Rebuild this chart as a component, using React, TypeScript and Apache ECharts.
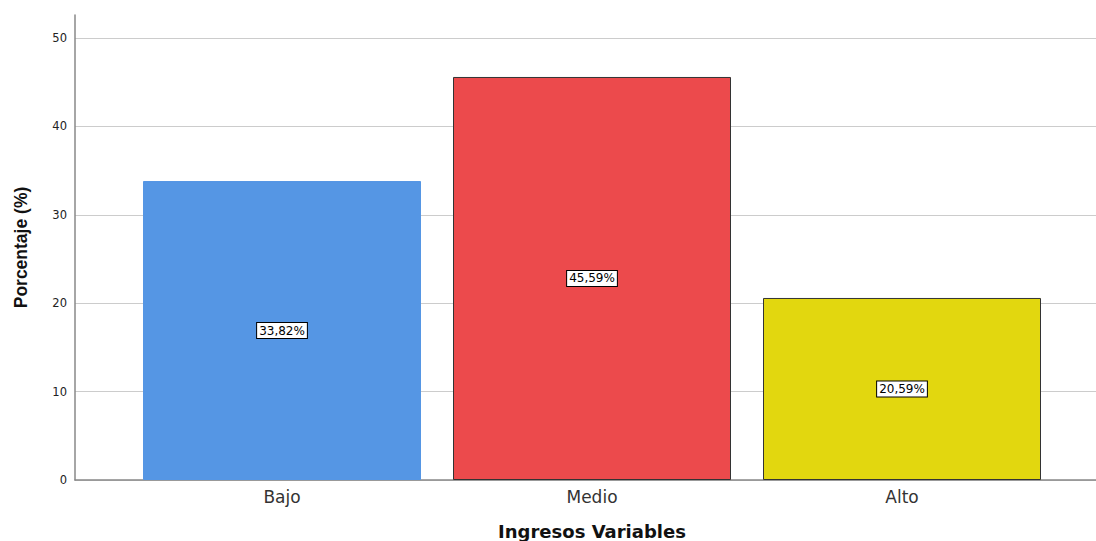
import React, { useEffect, useRef } from "react";
import * as echarts from "echarts";

const categories = ["Bajo", "Medio", "Alto"];
const values = [33.82, 45.59, 20.59];
const labels = ["33,82%", "45,59%", "20,59%"];
const colors = ["#5596e4", "#ec4a4c", "#e2d70f"];
const borders = ["#5596e4", "#333333", "#333333"];

export default function App() {
  const ref = useRef<HTMLDivElement>(null);
  useEffect(() => {
    const chart = echarts.init(ref.current!, undefined, { renderer: "svg" });
    const arial = "'Liberation Sans', Arial, sans-serif";
    const wide = "'DejaVu Sans', sans-serif";
    chart.setOption({
      animation: false,
      grid: [
        { left: 75, right: 0, top: 15, bottom: 61, containLabel: false, outerBoundsMode: "none" },
        { left: 127, right: 39, top: 15, bottom: 61, containLabel: false, outerBoundsMode: "none" },
      ],
      xAxis: [
        {
          gridIndex: 0,
          type: "value",
          min: 0,
          max: 1,
          axisLine: { show: true, onZero: false, lineStyle: { color: "#888", width: 1.5 } },
          axisTick: { show: false },
          axisLabel: { show: false },
          splitLine: { show: false },
        },
        {
          gridIndex: 1,
          type: "category",
          data: categories,
          axisLine: { show: false },
          axisTick: { show: false },
          axisLabel: { fontFamily: wide, fontSize: 17, color: "#333", margin: 8 },
          name: "Ingresos Variables",
          nameLocation: "middle",
          nameGap: 42,
          nameTextStyle: { fontFamily: wide, fontSize: 18, fontWeight: "bold", color: "#111" },
        },
      ],
      yAxis: [
        {
          gridIndex: 0,
          type: "value",
          min: 0,
          max: 52.6,
          interval: 10,
          axisLine: { show: true, lineStyle: { color: "#888", width: 1.5 } },
          axisTick: { show: false },
          axisLabel: { fontFamily: wide, fontSize: 11.5, color: "#222", showMaxLabel: false, margin: 8 },
          splitLine: { show: true, showMaxLine: false, lineStyle: { color: "#cccccc", width: 1 } },
          name: "Porcentaje (%)",
          nameLocation: "middle",
          nameGap: 45,
          nameRotate: 90,
          nameTextStyle: { fontFamily: arial, fontSize: 17.5, fontWeight: "bold", color: "#111" },
        },
        {
          gridIndex: 1,
          type: "value",
          min: 0,
          max: 52.6,
          show: false,
          splitLine: { show: false },
        },
      ],
      series: [
        {
          type: "bar",
          xAxisIndex: 1,
          yAxisIndex: 1,
          barWidth: 278,
          data: values.map((v, i) => ({
            value: v,
            itemStyle: { color: colors[i], borderColor: borders[i], borderWidth: 1 },
          })),
          label: {
            show: true,
            position: "inside",
            formatter: (p: any) => labels[p.dataIndex],
            fontFamily: wide,
            fontSize: 12,
            color: "#000",
            backgroundColor: "#fff",
            borderColor: "#000",
            borderWidth: 1,
            padding: [2, 2, 1, 2],
          },
        },
      ],
    });
    return () => chart.dispose();
  }, []);
  return (
    <div
      ref={ref}
      style={{ position: "absolute", left: 0, top: 0, width: 1096, height: 541, background: "#fff" }}
    />
  );
}
